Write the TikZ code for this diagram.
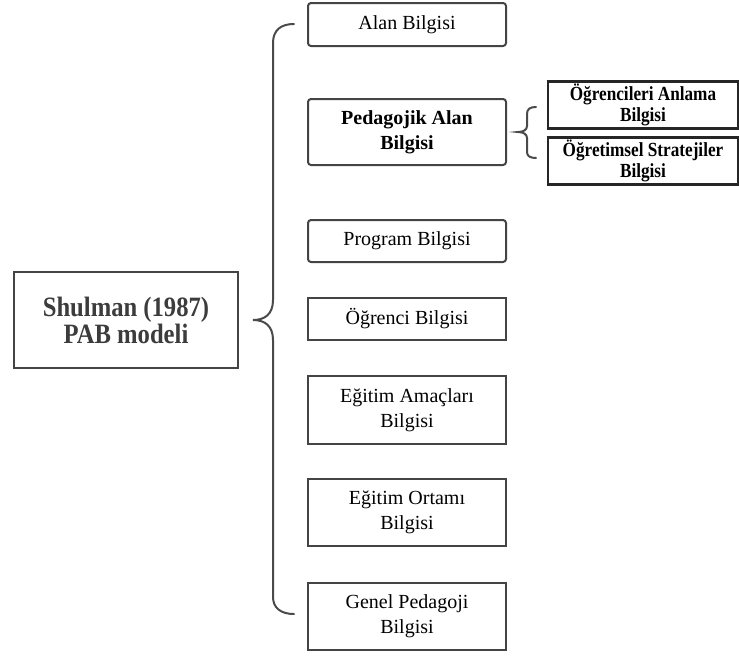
\documentclass[tikz,border=0pt]{standalone}
\usepackage{fontspec}
\setmainfont{Liberation Serif}
\newfontfamily\titlefont{Liberation Serif}[FakeStretch=0.88]
\newfontfamily\subfont{Liberation Serif}[FakeStretch=0.86]
\definecolor{edgegray}{HTML}{444444}
\definecolor{bracegray}{HTML}{4A4A4A}
\definecolor{titlegray}{HTML}{3C3C3C}
\begin{document}
\begin{tikzpicture}[x=1pt,y=-1pt,
  box/.style={draw=edgegray, line width=2pt, fill=white, minimum width=198pt,
    align=center, inner sep=0pt, font=\fontsize{20}{25}\selectfont},
  roundbox/.style={box, rounded corners=3pt},
  subbox/.style={draw=black!85, line width=2.6pt, fill=white, minimum width=190pt,
    minimum height=47pt, align=center, inner sep=0pt,
    font=\subfont\bfseries\fontsize{20}{20.5}\selectfont},
  brace/.style={draw=bracegray, line width=2pt, line cap=round}]
\useasboundingbox (0,0) rectangle (739,657);

% model title
\node[draw=edgegray, line width=2pt, minimum width=224pt, minimum height=96pt,
  align=center, inner sep=0pt, text=titlegray,
  font=\titlefont\bfseries\fontsize{28}{27}\selectfont] (model) at (126,320)
  {Shulman (1987)\\PAB modeli};

% knowledge components
\node[roundbox, minimum height=43pt] (alan) at (407,24.5) {Alan Bilgisi};
\node[roundbox, minimum height=66pt, font=\bfseries\fontsize{20}{25}\selectfont]
  (pab) at (407,132) {Pedagojik Alan\\Bilgisi};
\node[roundbox, minimum height=42pt] (program) at (407,241) {Program Bilgisi};
\node[box, minimum height=42pt] (ogrenci) at (407,319) {Öğrenci Bilgisi};
\node[box, minimum height=68pt] (amac) at (407,410) {Eğitim Amaçları\\Bilgisi};
\node[box, minimum height=67pt] (ortam) at (407,512.5) {Eğitim Ortamı\\Bilgisi};
\node[box, minimum height=67pt] (genel) at (407,616.5) {Genel Pedagoji\\Bilgisi};

% sub-components of PAB
\node[subbox] (anlama) at (643,105) {Öğrencileri Anlama\\Bilgisi};
\node[subbox] (strateji) at (643,161) {Öğretimsel Stratejiler\\Bilgisi};

% large brace
\coordinate (bigtop) at (294,24);
\coordinate (bigbot) at (294,614);
\coordinate (bigtip) at (253,320);
\draw[brace] (bigtop) .. controls (281,24) and (273,30) .. (273,43)
  -- (273,300) .. controls (273,314) and (265,320) .. (bigtip)
  .. controls (265,320) and (273,326) .. (273,340)
  -- (273,597) .. controls (273,608) and (281,614) .. (bigbot);

% small brace
\coordinate (smtop) at (536,107);
\coordinate (smbot) at (536,158);
\coordinate (smtip) at (518,132);
\draw[brace] (smtop) .. controls (530,107) and (527,109) .. (527,114)
  -- (527,126) .. controls (527,130) and (523,132) .. (smtip)
  .. controls (523,132) and (527,134) .. (527,138)
  -- (527,152) .. controls (527,156) and (530,158) .. (smbot);
\end{tikzpicture}
\end{document}
